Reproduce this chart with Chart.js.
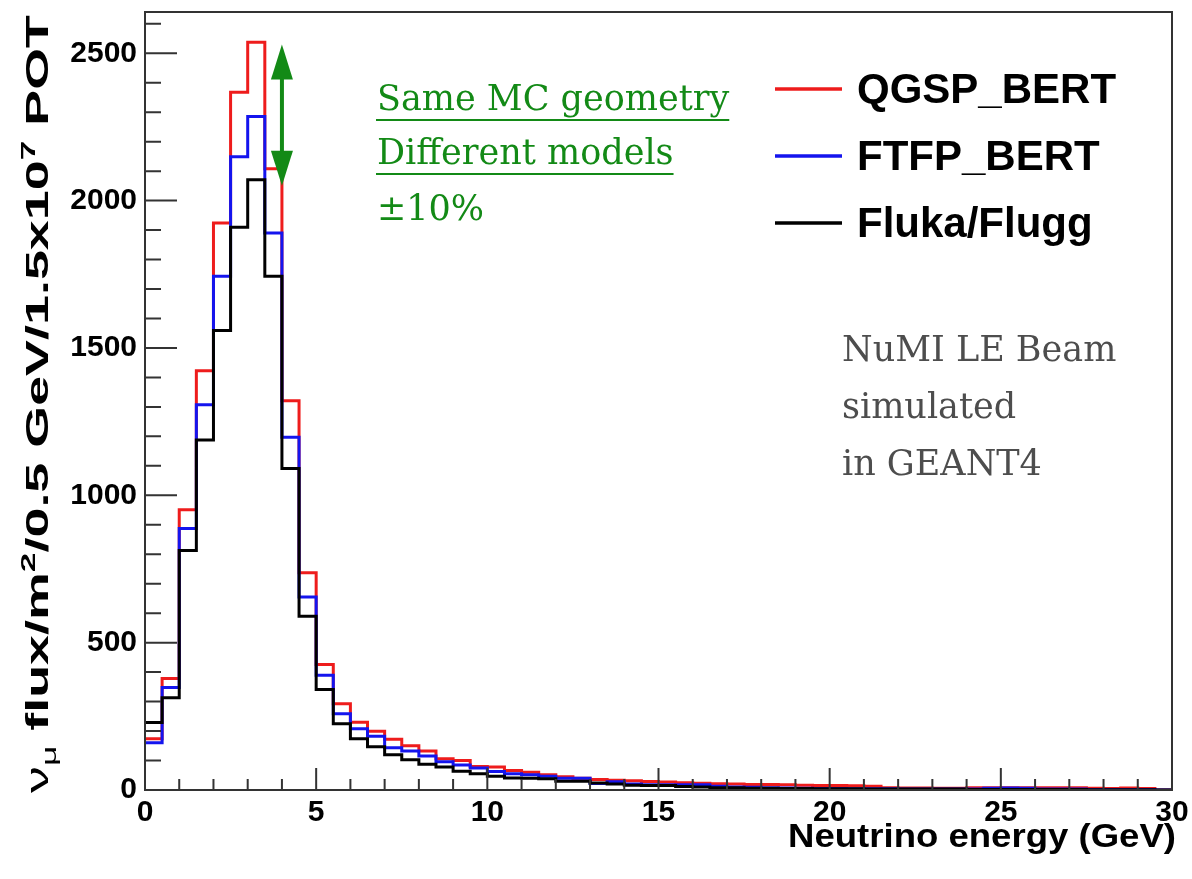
<!DOCTYPE html>
<html><head><meta charset="utf-8">
<script src="https://cdn.jsdelivr.net/npm/chart.js@4/dist/chart.umd.min.js"></script>
<style>html,body{margin:0;padding:0;background:#fff}#wrap{width:1192px;height:879px}</style>
</head><body><div id="wrap"><canvas id="c" width="1192" height="879"></canvas></div>
<script>
// Bin low edges (GeV), 0.5 GeV bins
const binLowEdges = [0,0.5,1,1.5,2,2.5,3,3.5,4,4.5,5,5.5,6,6.5,7,7.5,8,8.5,9,9.5,10,10.5,11,11.5,12,12.5,13,13.5,14,14.5,15,15.5,16,16.5,17,17.5,18,18.5,19,19.5,20,20.5,21,21.5,22,22.5,23,23.5,24,24.5,25,25.5,26,26.5,27,27.5,28,28.5,29,29.5];
const binUpperEdge = 30;
const qgspBert = [174,378,951,1423,1924,2368,2537,2108,1321,737,426,293,230,199,172,150,132,106,100,80,78,66,60,52,45,40,36,33,31,29,27,25,23,21,20,19,19,18,16,15,15,14,13,8,7,7,6,6,8,8,8,8,8,8,8,6,5,7,5,0];
const ftfpBert = [160,348,887,1307,1743,2149,2285,1890,1197,655,389,259,208,182,143,132,115,96,85,75,63,55,52,47,40,40,22,28,20,18,18,18,18,13,10,9,8,7,6,5,5,4,4,4,3,3,3,3,3,6,7,6,3,3,3,2,2,2,2,0];
const flukaFlugg = [229,313,813,1188,1559,1910,2071,1743,1091,590,341,225,174,147,120,103,87,78,64,55,47,41,40,38,30,30,24,20,16,15,15,12,10,8,8,6,6,5,5,4,4,4,3,3,3,3,3,3,2,2,2,2,2,2,2,1,1,1,1,0];
const seriesNames = ['QGSP_BERT','FTFP_BERT','Fluka/Flugg'];
const seriesColors = ['#ee1c1c','#1414ee','#000000'];
const xTickValues = [0,5,10,15,20,25,30];
const yTickValues = [0,500,1000,1500,2000,2500];
const annotationLines = ['Same MC geometry','Different models','\u00b110%'];
const noteLines = ['NuMI LE Beam','simulated','in GEANT4'];
const arrowEnergy = 4.0, arrowLow = 2050, arrowHigh = 2530;

function toPoints(vals){
  const pts = vals.map((v,i)=>({x:binLowEdges[i], y:v}));
  pts.push({x:binUpperEdge, y:0});
  return pts;
}

const SANS = '"Liberation Sans", Arial, Helvetica, sans-serif';
const SERIF = '"DejaVu Serif", serif';

const decor = {
  id:'decor',
  afterDraw(chart){
    const ctx = chart.ctx, a = chart.chartArea;
    const xs = chart.scales.x, ys = chart.scales.y;
    ctx.save();
    // ticks inside
    ctx.strokeStyle = '#333'; ctx.lineWidth = 2;
    ctx.beginPath();
    for (let v=0; v<=2600; v+=100){
      const py = ys.getPixelForValue(v);
      if (py < a.top) continue;
      const len = (v%500===0)?32:16;
      ctx.moveTo(a.left, py); ctx.lineTo(a.left+len, py);
    }
    for (let v=0; v<=30; v+=1){
      const px = xs.getPixelForValue(v);
      const len = (v%5===0)?22:11;
      ctx.moveTo(px, a.bottom); ctx.lineTo(px, a.bottom-len);
    }
    ctx.stroke();
    // frame
    ctx.strokeRect(a.left, a.top, a.right-a.left, a.bottom-a.top);

    // green arrow
    const ax = xs.getPixelForValue(arrowEnergy);
    const yTop = ys.getPixelForValue(arrowHigh), yBot = ys.getPixelForValue(arrowLow);
    const hh = 35, hw = 11;
    ctx.fillStyle = '#138a16'; ctx.strokeStyle = '#138a16'; ctx.lineWidth = 4;
    ctx.beginPath(); ctx.moveTo(ax, yTop+hh-2); ctx.lineTo(ax, yBot-hh+2); ctx.stroke();
    ctx.beginPath(); ctx.moveTo(ax, yTop); ctx.lineTo(ax-hw, yTop+hh); ctx.lineTo(ax+hw, yTop+hh); ctx.closePath(); ctx.fill();
    ctx.beginPath(); ctx.moveTo(ax, yBot); ctx.lineTo(ax-hw, yBot-hh); ctx.lineTo(ax+hw, yBot-hh); ctx.closePath(); ctx.fill();

    // green annotation text
    ctx.font = '35px ' + SERIF; ctx.textAlign='left'; ctx.textBaseline='alphabetic';
    const gBase = [110,164,220];
    annotationLines.forEach((t,i)=>{
      ctx.fillText(t, 377, gBase[i]);
      if (i<2){
        const w = ctx.measureText(t).width;
        ctx.lineWidth = 2;
        ctx.beginPath(); ctx.moveTo(376, gBase[i]+10); ctx.lineTo(377+w, gBase[i]+10); ctx.stroke();
      }
    });
    // gray note
    ctx.fillStyle = '#4d4d4d';
    const nBase = [361,418,475];
    noteLines.forEach((t,i)=> ctx.fillText(t, 842, nBase[i]));

    // legend
    const lBase = [103,170,237];
    ctx.font = 'bold 42px ' + SANS;
    seriesNames.forEach((n,i)=>{
      ctx.strokeStyle = seriesColors[i]; ctx.lineWidth = 3.5;
      ctx.beginPath(); ctx.moveTo(775, lBase[i]-14); ctx.lineTo(842, lBase[i]-14); ctx.stroke();
      ctx.fillStyle = '#000'; ctx.fillText(n, 857, lBase[i]);
    });

    // x title
    ctx.font = 'bold 33px ' + SANS;
    const xt = 'Neutrino energy (GeV)';
    const xw = ctx.measureText(xt).width;
    ctx.save(); ctx.translate(1176, 847); ctx.scale(388/xw, 1);
    ctx.textAlign='right'; ctx.fillStyle='#000'; ctx.fillText(xt, 0, 0); ctx.restore();

    // y title (rich text, rotated)
    const pieces = [
      {t:'\u03bd', f:'32px '+SANS, dy:0},
      {t:'\u03bc', f:'21px '+SANS, dy:8},
      {t:' flux/m', f:'bold 32px '+SANS, dy:0},
      {t:'2', f:'bold 21px '+SANS, dy:-13},
      {t:'/0.5 GeV/1.5x10', f:'bold 32px '+SANS, dy:0},
      {t:'7', f:'bold 21px '+SANS, dy:-13},
      {t:' POT', f:'bold 32px '+SANS, dy:0}
    ];
    let total = 0;
    pieces.forEach(p=>{ ctx.font=p.f; p.w = ctx.measureText(p.t).width; total += p.w; });
    ctx.save(); ctx.translate(48, 793); ctx.rotate(-Math.PI/2); ctx.scale(778/total, 1);
    ctx.textAlign='left'; ctx.fillStyle='#000';
    let cx = 0;
    pieces.forEach(p=>{ ctx.font=p.f; ctx.fillText(p.t, cx, p.dy); cx += p.w; });
    ctx.restore();
    ctx.restore();
  }
};

const mk = (label, vals, color, order) => ({
  label, data: toPoints(vals), borderColor: color, borderWidth: 3,
  pointRadius: 0, stepped: 'before', fill: false, order
});

const zeroPad = s => { s.paddingTop = 0; s.paddingBottom = 0; s.paddingLeft = 0; s.paddingRight = 0; };

new Chart(document.getElementById('c'), {
  type: 'line',
  data: { datasets: [
    mk(seriesNames[0], qgspBert, seriesColors[0], 2),
    mk(seriesNames[1], ftfpBert, seriesColors[1], 1),
    mk(seriesNames[2], flukaFlugg, seriesColors[2], 0)
  ]},
  options: {
    responsive: false, animation: false, devicePixelRatio: 1,
    layout: { padding: { top: 12, right: 20, left: 0, bottom: 0 } },
    plugins: { legend: { display: false }, tooltip: { enabled: false } },
    scales: {
      x: {
        type: 'linear', min: 0, max: 30,
        grid: { display: false, drawTicks: false }, border: { display: false },
        ticks: { font: { family: SANS, size: 30, weight: 'bold' }, color: '#000', padding: 5, maxRotation: 0, autoSkip: false, callback: v => String(v) },
        afterBuildTicks: s => { s.ticks = xTickValues.map(v => ({ value: v })); },
        afterFit: s => { s.height = 89; zeroPad(s); }
      },
      y: {
        type: 'linear', min: 0, max: 2640,
        grid: { display: false, drawTicks: false }, border: { display: false },
        ticks: { font: { family: SANS, size: 30, weight: 'bold' }, color: '#000', padding: 8, autoSkip: false, callback: v => String(v) },
        afterBuildTicks: s => { s.ticks = yTickValues.map(v => ({ value: v })); },
        afterFit: s => { s.width = 145; zeroPad(s); }
      }
    }
  },
  plugins: [decor]
});
</script></body></html>
